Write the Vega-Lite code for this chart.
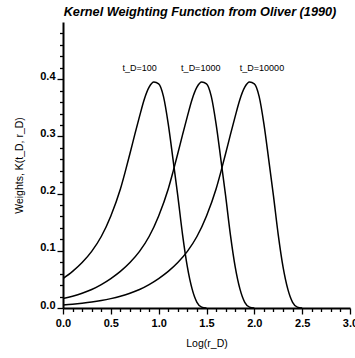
{
  "$schema": "https://vega.github.io/schema/vega-lite/v6.json",
  "autosize": "none",
  "width": 287,
  "height": 286,
  "padding": {"left": 63, "top": 22, "right": 5, "bottom": 50},
  "background": "white",
  "config": {"view": {"stroke": null}, "font": "Liberation Sans"},
  "title": {"text": "Kernel Weighting Function from Oliver (1990)", "font": "Liberation Sans", "fontSize": 12.7, "fontWeight": "bold", "fontStyle": "italic", "color": "black", "anchor": "middle", "frame": "group", "dx": -6.5, "offset": 3},
  "layer": [
    {
      "data": {"values": [
        {"series": "t_D=100", "x": 0.0, "y": 0.0515},
        {"series": "t_D=100", "x": 0.1, "y": 0.064},
        {"series": "t_D=100", "x": 0.2, "y": 0.0795},
        {"series": "t_D=100", "x": 0.3, "y": 0.099},
        {"series": "t_D=100", "x": 0.4, "y": 0.125},
        {"series": "t_D=100", "x": 0.5, "y": 0.161},
        {"series": "t_D=100", "x": 0.6, "y": 0.208},
        {"series": "t_D=100", "x": 0.65, "y": 0.238},
        {"series": "t_D=100", "x": 0.7, "y": 0.27},
        {"series": "t_D=100", "x": 0.75, "y": 0.303},
        {"series": "t_D=100", "x": 0.8, "y": 0.335},
        {"series": "t_D=100", "x": 0.85, "y": 0.365},
        {"series": "t_D=100", "x": 0.9, "y": 0.386},
        {"series": "t_D=100", "x": 0.95, "y": 0.395},
        {"series": "t_D=100", "x": 1.0, "y": 0.392},
        {"series": "t_D=100", "x": 1.05, "y": 0.37},
        {"series": "t_D=100", "x": 1.1, "y": 0.322},
        {"series": "t_D=100", "x": 1.15, "y": 0.26},
        {"series": "t_D=100", "x": 1.2, "y": 0.196},
        {"series": "t_D=100", "x": 1.25, "y": 0.128},
        {"series": "t_D=100", "x": 1.3, "y": 0.072},
        {"series": "t_D=100", "x": 1.35, "y": 0.033},
        {"series": "t_D=100", "x": 1.4, "y": 0.01},
        {"series": "t_D=100", "x": 1.45, "y": 0.0015},
        {"series": "t_D=100", "x": 1.5, "y": 0.0},
        {"series": "t_D=1000", "x": 0.0, "y": 0.0164},
        {"series": "t_D=1000", "x": 0.1, "y": 0.0206},
        {"series": "t_D=1000", "x": 0.2, "y": 0.0258},
        {"series": "t_D=1000", "x": 0.3, "y": 0.0324},
        {"series": "t_D=1000", "x": 0.4, "y": 0.041},
        {"series": "t_D=1000", "x": 0.5, "y": 0.0515},
        {"series": "t_D=1000", "x": 0.6, "y": 0.064},
        {"series": "t_D=1000", "x": 0.7, "y": 0.0795},
        {"series": "t_D=1000", "x": 0.8, "y": 0.099},
        {"series": "t_D=1000", "x": 0.9, "y": 0.125},
        {"series": "t_D=1000", "x": 1.0, "y": 0.161},
        {"series": "t_D=1000", "x": 1.1, "y": 0.208},
        {"series": "t_D=1000", "x": 1.15, "y": 0.238},
        {"series": "t_D=1000", "x": 1.2, "y": 0.27},
        {"series": "t_D=1000", "x": 1.25, "y": 0.303},
        {"series": "t_D=1000", "x": 1.3, "y": 0.335},
        {"series": "t_D=1000", "x": 1.35, "y": 0.365},
        {"series": "t_D=1000", "x": 1.4, "y": 0.386},
        {"series": "t_D=1000", "x": 1.45, "y": 0.395},
        {"series": "t_D=1000", "x": 1.5, "y": 0.392},
        {"series": "t_D=1000", "x": 1.55, "y": 0.37},
        {"series": "t_D=1000", "x": 1.6, "y": 0.322},
        {"series": "t_D=1000", "x": 1.65, "y": 0.26},
        {"series": "t_D=1000", "x": 1.7, "y": 0.196},
        {"series": "t_D=1000", "x": 1.75, "y": 0.128},
        {"series": "t_D=1000", "x": 1.8, "y": 0.072},
        {"series": "t_D=1000", "x": 1.85, "y": 0.033},
        {"series": "t_D=1000", "x": 1.9, "y": 0.01},
        {"series": "t_D=1000", "x": 1.95, "y": 0.0015},
        {"series": "t_D=1000", "x": 2.0, "y": 0.0},
        {"series": "t_D=10000", "x": 0.0, "y": 0.0052},
        {"series": "t_D=10000", "x": 0.1, "y": 0.0065},
        {"series": "t_D=10000", "x": 0.2, "y": 0.0082},
        {"series": "t_D=10000", "x": 0.3, "y": 0.0103},
        {"series": "t_D=10000", "x": 0.4, "y": 0.013},
        {"series": "t_D=10000", "x": 0.5, "y": 0.0164},
        {"series": "t_D=10000", "x": 0.6, "y": 0.0206},
        {"series": "t_D=10000", "x": 0.7, "y": 0.0258},
        {"series": "t_D=10000", "x": 0.8, "y": 0.0324},
        {"series": "t_D=10000", "x": 0.9, "y": 0.041},
        {"series": "t_D=10000", "x": 1.0, "y": 0.0515},
        {"series": "t_D=10000", "x": 1.1, "y": 0.064},
        {"series": "t_D=10000", "x": 1.2, "y": 0.0795},
        {"series": "t_D=10000", "x": 1.3, "y": 0.099},
        {"series": "t_D=10000", "x": 1.4, "y": 0.125},
        {"series": "t_D=10000", "x": 1.5, "y": 0.161},
        {"series": "t_D=10000", "x": 1.6, "y": 0.208},
        {"series": "t_D=10000", "x": 1.65, "y": 0.238},
        {"series": "t_D=10000", "x": 1.7, "y": 0.27},
        {"series": "t_D=10000", "x": 1.75, "y": 0.303},
        {"series": "t_D=10000", "x": 1.8, "y": 0.335},
        {"series": "t_D=10000", "x": 1.85, "y": 0.365},
        {"series": "t_D=10000", "x": 1.9, "y": 0.386},
        {"series": "t_D=10000", "x": 1.95, "y": 0.395},
        {"series": "t_D=10000", "x": 2.0, "y": 0.392},
        {"series": "t_D=10000", "x": 2.05, "y": 0.37},
        {"series": "t_D=10000", "x": 2.1, "y": 0.322},
        {"series": "t_D=10000", "x": 2.15, "y": 0.26},
        {"series": "t_D=10000", "x": 2.2, "y": 0.196},
        {"series": "t_D=10000", "x": 2.25, "y": 0.128},
        {"series": "t_D=10000", "x": 2.3, "y": 0.072},
        {"series": "t_D=10000", "x": 2.35, "y": 0.033},
        {"series": "t_D=10000", "x": 2.4, "y": 0.01},
        {"series": "t_D=10000", "x": 2.45, "y": 0.0015},
        {"series": "t_D=10000", "x": 2.5, "y": 0.0}
      ]},
      "mark": {"type": "line", "color": "black", "strokeWidth": 1.5, "interpolate": "monotone", "clip": true},
      "encoding": {
        "detail": {"field": "series"},
        "x": {"field": "x", "type": "quantitative", "scale": {"domain": [0, 3], "nice": false, "zero": false},
          "axis": {"title": "Log(r_D)", "titleFont": "Liberation Sans", "titleFontSize": 10.5, "titleFontWeight": "normal", "titleColor": "black", "titlePadding": 10,
            "values": [0,0.1,0.2,0.3,0.4,0.5,0.6,0.7,0.8,0.9,1,1.1,1.2,1.3,1.4,1.5,1.6,1.7,1.8,1.9,2,2.1,2.2,2.3,2.4,2.5,2.6,2.7,2.8,2.9,3],
            "tickCount": 100,
            "labelExpr": "abs(datum.value*2 - round(datum.value*2)) < 0.001 ? format(datum.value, '.1f') : ''",
            "labelFont": "Liberation Sans", "labelFontSize": 11, "labelFontWeight": "bold", "labelColor": "black", "labelPadding": 3, "labelOverlap": false, "labelFlush": false,
            "tickSize": {"condition": {"test": "abs(datum.value*2 - round(datum.value*2)) < 0.001", "value": 6}, "value": 3.5},
            "tickColor": "black", "tickWidth": 1.3, "domainColor": "black", "domainWidth": 2, "grid": false}},
        "y": {"field": "y", "type": "quantitative", "scale": {"domain": [0, 0.5], "nice": false},
          "axis": {"title": "Weights, K(t_D, r_D)", "titleFont": "Liberation Sans", "titleFontSize": 10.5, "titleFontWeight": "normal", "titleColor": "black", "titlePadding": 15,
            "values": [0,0.02,0.04,0.06,0.08,0.1,0.12,0.14,0.16,0.18,0.2,0.22,0.24,0.26,0.28,0.3,0.32,0.34,0.36,0.38,0.4,0.42,0.44,0.46,0.48],
            "tickCount": 100,
            "labelExpr": "abs(datum.value*10 - round(datum.value*10)) < 0.001 ? format(datum.value, '.1f') : ''",
            "labelFont": "Liberation Sans", "labelFontSize": 11, "labelFontWeight": "bold", "labelColor": "black", "labelPadding": 2, "labelOverlap": false, "labelFlush": false, "labelBaseline": "alphabetic",
            "tickSize": {"condition": {"test": "abs(datum.value*10 - round(datum.value*10)) < 0.001", "value": 6}, "value": 3.5},
            "tickColor": "black", "tickWidth": 1.3, "domainColor": "black", "domainWidth": 2, "grid": false}}
      }
    },
    {
      "data": {"values": [
        {"label": "t_D=100", "x": 0.80, "y": 0.414},
        {"label": "t_D=1000", "x": 1.44, "y": 0.414},
        {"label": "t_D=10000", "x": 2.08, "y": 0.414}
      ]},
      "mark": {"type": "text", "font": "Liberation Sans", "fontSize": 9, "color": "black", "align": "center", "baseline": "alphabetic"},
      "encoding": {
        "x": {"field": "x", "type": "quantitative"},
        "y": {"field": "y", "type": "quantitative"},
        "text": {"field": "label"}
      }
    }
  ]
}
